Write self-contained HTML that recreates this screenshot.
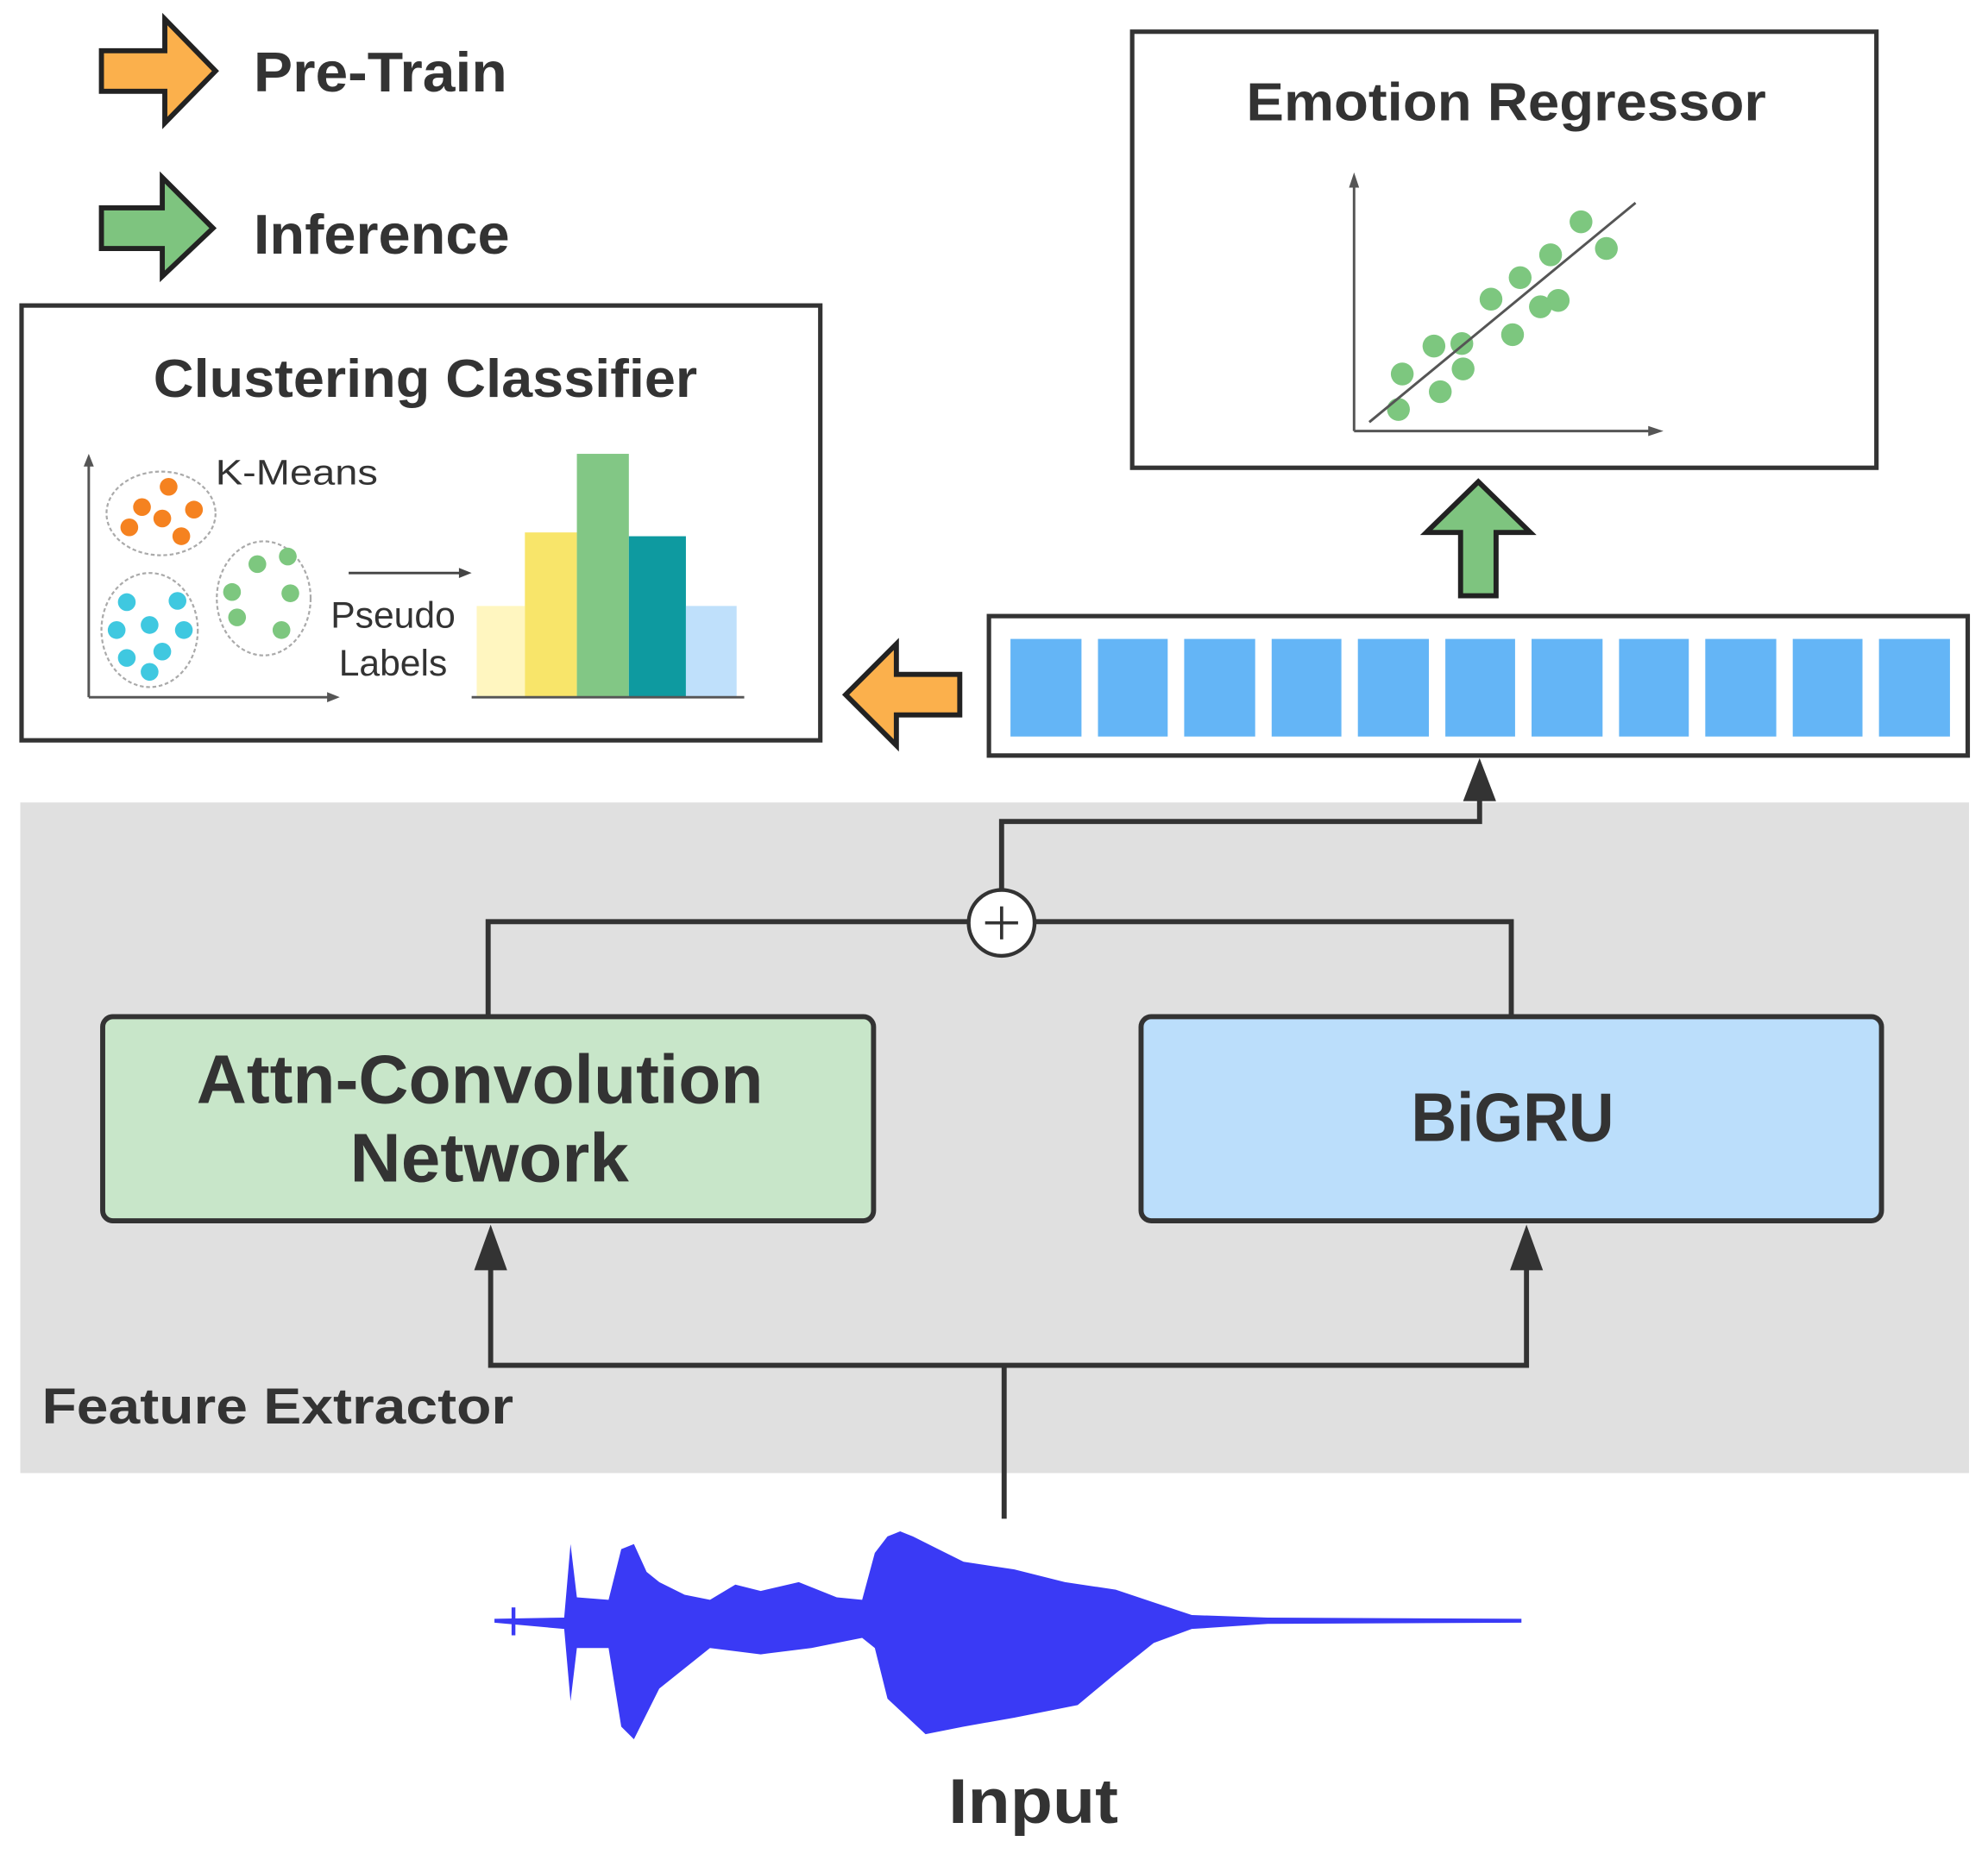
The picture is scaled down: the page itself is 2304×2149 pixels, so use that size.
<!DOCTYPE html>
<html><head><meta charset="utf-8"><style>
html,body{margin:0;padding:0;background:#fff}
svg{display:block}
text{font-family:"Liberation Sans",sans-serif;fill:#333}
</style></head><body>
<svg width="2304" height="2149" viewBox="0 0 1568 1462.5" preserveAspectRatio="none" xmlns="http://www.w3.org/2000/svg">
<rect x="16" y="633" width="1537" height="529" fill="#e0e0e0"/>
<path d="M80,40 L130,40 L130,15 L170,56 L130,97 L130,72 L80,72 Z" fill="#fbb04c" stroke="#222" stroke-width="4"/>
<text x="200" y="72" font-size="44" font-weight="bold" textLength="200" lengthAdjust="spacingAndGlyphs">Pre-Train</text>
<path d="M80,164 L128,164 L128,140 L168,180 L128,218 L128,196 L80,196 Z" fill="#7ec47f" stroke="#222" stroke-width="4"/>
<text x="200" y="200" font-size="44" font-weight="bold" textLength="202" lengthAdjust="spacingAndGlyphs">Inference</text>
<rect x="17" y="241" width="630" height="343" fill="#fff" stroke="#333" stroke-width="3.5"/>
<text x="121" y="313" font-size="42" font-weight="bold" textLength="429" lengthAdjust="spacingAndGlyphs">Clustering Classifier</text>
<line x1="70" y1="550" x2="70" y2="362" stroke="#555" stroke-width="2"/>
<path d="M66,368 L70,358 L74,368Z" fill="#555"/>
<line x1="70" y1="550" x2="262" y2="550" stroke="#555" stroke-width="2"/>
<path d="M258,546 L268,550 L258,554Z" fill="#555"/>
<ellipse cx="127" cy="405" rx="43" ry="33" fill="none" stroke="#aaa" stroke-width="1.5" stroke-dasharray="3,2"/>
<ellipse cx="118" cy="497" rx="38" ry="45" fill="none" stroke="#aaa" stroke-width="1.5" stroke-dasharray="3,2"/>
<ellipse cx="208" cy="472" rx="37" ry="45" fill="none" stroke="#aaa" stroke-width="1.5" stroke-dasharray="3,2"/>
<g fill="#f58220"><circle cx="133" cy="384" r="7"/><circle cx="112" cy="400" r="7"/><circle cx="153" cy="402" r="7"/><circle cx="128" cy="409" r="7"/><circle cx="102" cy="416" r="7"/><circle cx="143" cy="423" r="7"/></g>
<g fill="#3fc8e0"><circle cx="100" cy="475" r="7"/><circle cx="140" cy="474" r="7"/><circle cx="118" cy="493" r="7"/><circle cx="92" cy="497" r="7"/><circle cx="145" cy="497" r="7"/><circle cx="128" cy="514" r="7"/><circle cx="100" cy="519" r="7"/><circle cx="118" cy="530" r="7"/></g>
<g fill="#7dc77f"><circle cx="203" cy="445" r="7"/><circle cx="227" cy="439" r="7"/><circle cx="183" cy="467" r="7"/><circle cx="229" cy="468" r="7"/><circle cx="187" cy="487" r="7"/><circle cx="222" cy="497" r="7"/></g>
<text x="170" y="382" font-size="28" textLength="128" lengthAdjust="spacingAndGlyphs">K-Means</text>
<line x1="275" y1="452" x2="365" y2="452" stroke="#444" stroke-width="2"/>
<path d="M362,448 L372,452 L362,456Z" fill="#444"/>
<text x="310" y="495" font-size="29" text-anchor="middle">Pseudo</text>
<text x="310" y="533" font-size="29" text-anchor="middle">Labels</text>
<rect x="376" y="478" width="38" height="72" fill="#fff6c0"/>
<rect x="414" y="420" width="41" height="130" fill="#f8e56a"/>
<rect x="455" y="358" width="41" height="192" fill="#82c785"/>
<rect x="496" y="423" width="45" height="127" fill="#0e9aa0"/>
<rect x="541" y="478" width="40" height="72" fill="#bfe0fb"/>
<line x1="372" y1="550" x2="587" y2="550" stroke="#555" stroke-width="2"/>
<rect x="893" y="25" width="587" height="344" fill="#fff" stroke="#333" stroke-width="3.5"/>
<text x="983" y="95" font-size="42" font-weight="bold" textLength="410" lengthAdjust="spacingAndGlyphs">Emotion Regressor</text>
<line x1="1068" y1="340" x2="1068" y2="140" stroke="#555" stroke-width="2"/>
<path d="M1064,148 L1068,136 L1072,148Z" fill="#555"/>
<line x1="1068" y1="340" x2="1305" y2="340" stroke="#555" stroke-width="2"/>
<path d="M1300,336 L1312,340 L1300,344Z" fill="#555"/>
<g fill="#7dc77f"><circle cx="1247" cy="175" r="9"/><circle cx="1267" cy="196" r="9"/><circle cx="1223" cy="201" r="9"/><circle cx="1199" cy="219" r="9"/><circle cx="1229" cy="237" r="9"/><circle cx="1215" cy="242" r="9"/><circle cx="1176" cy="236" r="9"/><circle cx="1193" cy="264" r="9"/><circle cx="1153" cy="271" r="9"/><circle cx="1131" cy="273" r="9"/><circle cx="1154" cy="291" r="9"/><circle cx="1106" cy="295" r="9"/><circle cx="1136" cy="309" r="9"/><circle cx="1103" cy="323" r="9"/></g>
<line x1="1080" y1="333" x2="1290" y2="160" stroke="#555" stroke-width="2"/>
<path d="M1152,470 L1152,420 L1125,420 L1166,380 L1207,420 L1180,420 L1180,470 Z" fill="#7ec47f" stroke="#222" stroke-width="4"/>
<path d="M757,532 L707,532 L707,508 L667,548 L707,588 L707,564 L757,564 Z" fill="#fbb04c" stroke="#222" stroke-width="4"/>
<rect x="780" y="486" width="772" height="110" fill="#fff" stroke="#333" stroke-width="3.5"/>
<g fill="#64b5f6">
<rect x="797" y="504" width="56" height="77"/><rect x="866" y="504" width="55" height="77"/><rect x="934" y="504" width="56" height="77"/><rect x="1003" y="504" width="55" height="77"/><rect x="1071" y="504" width="56" height="77"/><rect x="1140" y="504" width="55" height="77"/><rect x="1208" y="504" width="56" height="77"/><rect x="1277" y="504" width="55" height="77"/><rect x="1345" y="504" width="56" height="77"/><rect x="1414" y="504" width="55" height="77"/><rect x="1482" y="504" width="56" height="77"/>
</g>
<g fill="none" stroke="#333" stroke-width="4">
<path d="M790,702 L790,648 L1167,648 L1167,630"/>
<path d="M385,800 L385,727 L764,727"/>
<path d="M816,727 L1192,727 L1192,800"/>
<path d="M792,1198 L792,1077"/>
<path d="M387,1000 L387,1077 L1204,1077 L1204,1000"/>
</g>
<path d="M1154,632 L1167,598 L1180,632Z" fill="#333"/>
<path d="M374,1002 L387,966 L400,1002Z" fill="#333"/>
<path d="M1191,1002 L1204,966 L1217,1002Z" fill="#333"/>
<circle cx="790" cy="728" r="26" fill="#fff" stroke="#333" stroke-width="3"/>
<line x1="777" y1="728" x2="803" y2="728" stroke="#333" stroke-width="2.5"/>
<line x1="790" y1="715" x2="790" y2="741" stroke="#333" stroke-width="2.5"/>
<rect x="81" y="802" width="608" height="161" rx="8" fill="#c8e6c9" stroke="#333" stroke-width="4"/>
<text x="155" y="870" font-size="54" font-weight="bold" textLength="447" lengthAdjust="spacingAndGlyphs">Attn-Convolution</text>
<text x="276" y="932" font-size="54" font-weight="bold" textLength="220" lengthAdjust="spacingAndGlyphs">Network</text>
<rect x="900" y="802" width="584" height="161" rx="8" fill="#bbdefb" stroke="#333" stroke-width="4"/>
<text x="1113" y="900" font-size="54" font-weight="bold" textLength="160" lengthAdjust="spacingAndGlyphs">BiGRU</text>
<text x="33" y="1123" font-size="40" font-weight="bold" textLength="372" lengthAdjust="spacingAndGlyphs">Feature Extractor</text>
<path d="M390,1277 L445,1276 L450,1218 L455,1260 L480,1262 L490,1222 L500,1218 L510,1240 L520,1248 L540,1258 L560,1262 L580,1250 L600,1255 L630,1248 L660,1260 L680,1262 L690,1225 L700,1212 L710,1208 L720,1212 L740,1222 L760,1232 L800,1238 L840,1248 L880,1254 L910,1264 L940,1274 L1000,1276 L1200,1277 L1200,1280 L1000,1281 L940,1285 L910,1296 L880,1320 L850,1345 L800,1355 L760,1362 L730,1368 L700,1340 L690,1300 L680,1292 L640,1300 L600,1305 L560,1300 L520,1332 L500,1372 L490,1362 L480,1300 L455,1300 L450,1342 L445,1285 L390,1280 Z" fill="#3a3af5"/>
<line x1="405" y1="1268" x2="405" y2="1290" stroke="#3a3af5" stroke-width="3"/>
<text x="748" y="1438" font-size="50" font-weight="bold" textLength="134" lengthAdjust="spacingAndGlyphs">Input</text>
</svg>
</body></html>
